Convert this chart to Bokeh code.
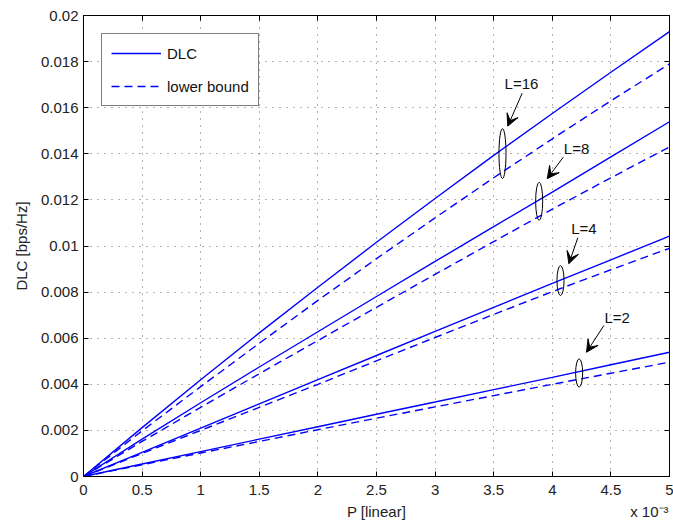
from bokeh.plotting import figure
from bokeh.models import (LegendItem, Legend, Title, Arrow, VeeHead, LinearAxis,
                          FixedTicker, CustomJSTickFormatter, ColumnDataSource, Range1d)
from bokeh.core.properties import value
from bokeh.embed import file_html
from bokeh.resources import INLINE

# ---- data (x in units of 1e-3) ----
P = [0, 0.5, 1, 1.5, 2, 2.5, 3, 3.5, 4, 4.5, 5]
dlc_L16 = [0, 0.00212, 0.0042, 0.00623, 0.00821, 0.01016, 0.01206, 0.01393, 0.01575, 0.01754, 0.0193]
lb_L16 = [0, 0.00198, 0.0039, 0.00578, 0.00764, 0.00945, 0.01122, 0.01296, 0.01465, 0.0163, 0.0179]
dlc_L8 = [0, 0.00162, 0.0032, 0.00475, 0.00628, 0.00781, 0.00933, 0.01084, 0.01234, 0.01387, 0.01539]
lb_L8 = [0, 0.00152, 0.0030, 0.00446, 0.0059, 0.00734, 0.00877, 0.01019, 0.0116, 0.01296, 0.0143]
dlc_L4 = [0, 0.00105, 0.0021, 0.00315, 0.0042, 0.00525, 0.0063, 0.00734, 0.00838, 0.0094, 0.01043]
lb_L4 = [0, 0.0010, 0.0020, 0.0030, 0.0040, 0.00502, 0.00603, 0.00703, 0.00802, 0.00897, 0.0099]
dlc_L2 = [0, 0.00054, 0.00108, 0.00162, 0.00216, 0.0027, 0.00323, 0.00377, 0.0043, 0.00485, 0.00539]
lb_L2 = [0, 0.00051, 0.00102, 0.00152, 0.00203, 0.00253, 0.00302, 0.00351, 0.0040, 0.00448, 0.00496]

x_ticks = [0, 0.5, 1, 1.5, 2, 2.5, 3, 3.5, 4, 4.5, 5]
y_ticks = [0, 0.002, 0.004, 0.006, 0.008, 0.01, 0.012, 0.014, 0.016, 0.018, 0.02]

# annotations
ann_text = ["L=16", "L=8", "L=4", "L=2"]
ann_text_x = [3.737, 4.207, 4.27, 4.553]
ann_text_y = [0.01705, 0.01423, 0.01076, 0.00688]
arr_x0 = [3.743, 4.093, 4.218, 4.44]
arr_y0 = [0.01663, 0.01385, 0.01036, 0.00655]
arr_x1 = [3.62, 3.957, 4.141, 4.292]
arr_y1 = [0.01520, 0.01292, 0.00923, 0.00539]
ell_x = [3.575, 3.888, 4.07, 4.229]
ell_y = [0.01401, 0.01194, 0.0085, 0.00449]
ell_w = [0.06, 0.06, 0.06, 0.06]
ell_h = [0.00217, 0.00165, 0.0013, 0.00123]

FONT = "Liberation Sans"
BLUE = "#0000ff"
TXT = "#222222"

p = figure(width=673, height=527, output_backend="svg", toolbar_location=None,
           x_range=Range1d(0, 5), y_range=Range1d(0, 0.02),
           min_border_left=83, min_border_right=4, min_border_top=15, min_border_bottom=51,
           background_fill_color="white", border_fill_color="white")

fmt = CustomJSTickFormatter(code="return parseFloat(tick.toFixed(4)).toString();")
blank = CustomJSTickFormatter(code="return '';")

for ax, ticks in ((p.xaxis[0], x_ticks), (p.yaxis[0], y_ticks)):
    ax.ticker = FixedTicker(ticks=ticks)
    ax.formatter = fmt
    ax.major_tick_in = 5
    ax.major_tick_out = 0
    ax.minor_tick_in = 0
    ax.minor_tick_out = 0
    ax.axis_line_color = "black"
    ax.major_tick_line_color = "black"
    ax.major_label_text_font = FONT
    ax.major_label_text_font_size = "15px"
    ax.major_label_text_color = TXT
    ax.axis_label_text_font = FONT
    ax.axis_label_text_font_size = "15px"
    ax.axis_label_text_font_style = "normal"
    ax.axis_label_text_color = TXT

p.xaxis[0].axis_label = "P [linear]"
p.yaxis[0].axis_label = "DLC [bps/Hz]"
p.xaxis[0].major_label_standoff = 8
p.yaxis[0].major_label_standoff = 5
p.xaxis[0].axis_label_standoff = 5
p.yaxis[0].axis_label_standoff = 8

top_ax = LinearAxis(ticker=FixedTicker(ticks=x_ticks), formatter=blank,
                    major_tick_in=5, major_tick_out=0, minor_tick_in=0, minor_tick_out=0,
                    major_label_standoff=0, axis_line_color="black")
right_ax = LinearAxis(ticker=FixedTicker(ticks=y_ticks), formatter=blank,
                      major_tick_in=5, major_tick_out=0, minor_tick_in=0, minor_tick_out=0,
                      major_label_standoff=0, axis_line_color="black")
p.add_layout(top_ax, "above")
p.add_layout(right_ax, "right")

p.xgrid.ticker = FixedTicker(ticks=x_ticks)
p.ygrid.ticker = FixedTicker(ticks=y_ticks)
for g in (p.xgrid, p.ygrid):
    g.grid_line_color = "#555555"
    g.grid_line_dash = "1 6"
    g.grid_line_alpha = 0.9
    g.grid_line_width = 1

p.outline_line_color = "black"

solid_r = None
dash_r = None
for dlc, lb in ((dlc_L16, lb_L16), (dlc_L8, lb_L8), (dlc_L4, lb_L4), (dlc_L2, lb_L2)):
    r1 = p.line(P, dlc, line_color=BLUE, line_width=1.4)
    r2 = p.line(P, lb, line_color=BLUE, line_width=1.4, line_dash="8 5")
    if solid_r is None:
        solid_r, dash_r = r1, r2

# ellipses, arrows, labels
p.ellipse(x=ell_x, y=ell_y, width=ell_w, height=ell_h, fill_color=None,
          line_color="black", line_width=1)
arr_src = ColumnDataSource(dict(x0=arr_x0, y0=arr_y0, x1=arr_x1, y1=arr_y1))
p.add_layout(Arrow(end=VeeHead(size=12, fill_color="black", line_color="black"),
                   x_start="x0", y_start="y0", x_end="x1", y_end="y1",
                   source=arr_src, line_color="black", line_width=1))
p.text(x=ann_text_x, y=ann_text_y, text=ann_text, text_align="center",
       text_baseline="middle", text_font=value(FONT), text_font_size="15px",
       text_color="#111111")

legend = Legend(items=[LegendItem(label="DLC", renderers=[solid_r]),
                       LegendItem(label="lower bound", renderers=[dash_r])],
                location="top_left", margin=18, padding=9, spacing=13,
                glyph_width=50, glyph_height=20, label_standoff=6,
                label_text_font=FONT, label_text_font_size="15px",
                label_text_color="#111111",
                border_line_color="black", border_line_width=1.2,
                background_fill_alpha=1.0)
p.add_layout(legend, "center")

p.add_layout(Title(text="x 10\u207b\u00b3", align="right", vertical_align="top",
                   text_font=FONT, text_font_size="15px", text_font_style="normal",
                   text_color=TXT, standoff=-40, offset=1), "below")

open("out.html", "w").write(file_html(p, INLINE))
